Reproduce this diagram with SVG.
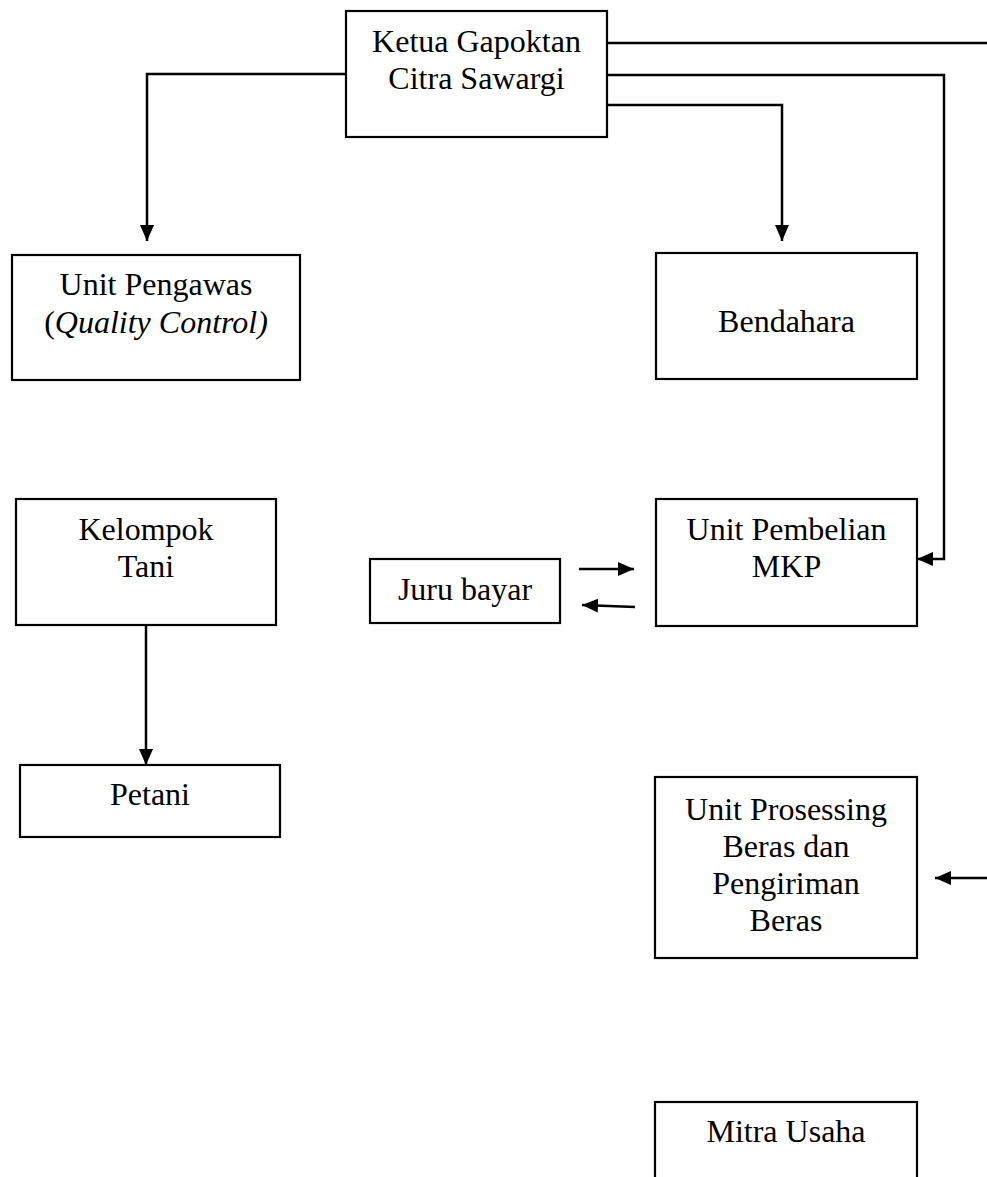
<svg xmlns="http://www.w3.org/2000/svg" width="987" height="1177" viewBox="0 0 987 1177">
<style>
.box{fill:#fff;stroke:#000;stroke-width:2.2}
.t{font-family:"Liberation Serif","Tinos","Times New Roman","DejaVu Serif",serif;font-size:32px;fill:#000;text-anchor:middle}
.c{fill:none;stroke:#000;stroke-width:2.5}
</style>
<defs>
<marker id="ah" viewBox="0 0 16 14" refX="16" refY="7" markerWidth="16" markerHeight="14" markerUnits="userSpaceOnUse" orient="auto">
<path d="M0,0 L16,7 L0,14 Z" fill="#000"/>
</marker>
</defs>
<rect width="987" height="1177" fill="#fff"/>
<g id="connectors">
<path class="c" d="M607,43 H987"/>
<path class="c" d="M607,75 H944 V559 H917" marker-end="url(#ah)"/>
<path class="c" d="M607,105 H782 V241" marker-end="url(#ah)"/>
<path class="c" d="M346,74 H147 V241" marker-end="url(#ah)"/>
<path class="c" d="M146,625 V765" marker-end="url(#ah)"/>
<path class="c" d="M579,569 H634" marker-end="url(#ah)"/>
<path class="c" d="M635,607 L582,605" marker-end="url(#ah)"/>
<path class="c" d="M987,878 H935" marker-end="url(#ah)"/>
</g>
<g id="ketua">
<rect class="box" x="346" y="11" width="261" height="126"/>
<text class="t" x="476.5" y="52">Ketua Gapoktan</text>
<text class="t" x="476.5" y="89">Citra Sawargi</text>
</g>
<g id="pengawas">
<rect class="box" x="12" y="255" width="288" height="125"/>
<text class="t" x="156" y="295">Unit Pengawas</text>
<text class="t" x="156" y="333">(<tspan font-style="italic">Quality Control)</tspan></text>
</g>
<g id="bendahara">
<rect class="box" x="656" y="253" width="261" height="126"/>
<text class="t" x="786.5" y="332">Bendahara</text>
</g>
<g id="kelompok">
<rect class="box" x="16" y="499" width="260" height="126"/>
<text class="t" x="146" y="540">Kelompok</text>
<text class="t" x="146" y="577">Tani</text>
</g>
<g id="petani">
<rect class="box" x="20" y="765" width="260" height="72"/>
<text class="t" x="150" y="805">Petani</text>
</g>
<g id="jurubayar">
<rect class="box" x="370" y="559" width="190" height="64"/>
<text class="t" x="465" y="600">Juru bayar</text>
</g>
<g id="pembelian">
<rect class="box" x="656" y="499" width="261" height="127"/>
<text class="t" x="786.5" y="540">Unit Pembelian</text>
<text class="t" x="786.5" y="577">MKP</text>
</g>
<g id="prosessing">
<rect class="box" x="655" y="777" width="262" height="181"/>
<text class="t" x="786" y="820">Unit Prosessing</text>
<text class="t" x="786" y="857">Beras dan</text>
<text class="t" x="786" y="894">Pengiriman</text>
<text class="t" x="786" y="931">Beras</text>
</g>
<g id="mitra">
<rect class="box" x="655" y="1102" width="262" height="90"/>
<text class="t" x="786" y="1142">Mitra Usaha</text>
</g>
</svg>
